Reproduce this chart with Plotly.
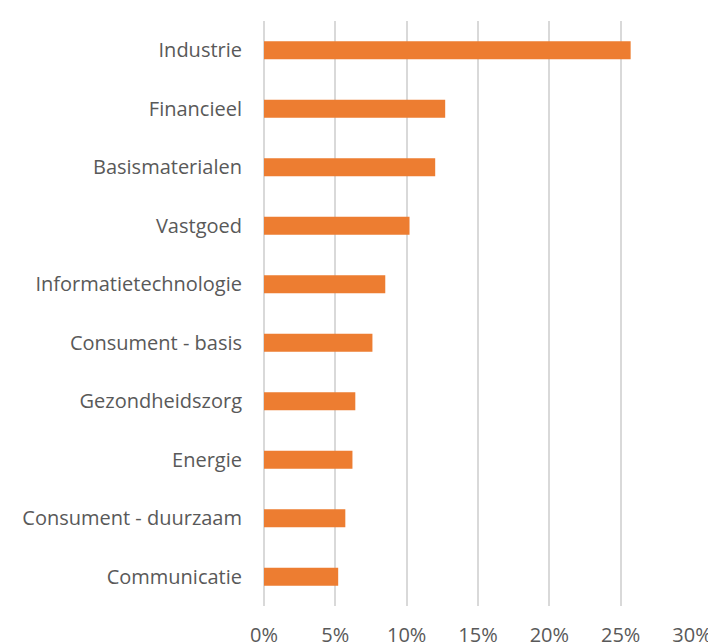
import plotly.graph_objects as go

categories = ["Industrie", "Financieel", "Basismaterialen", "Vastgoed",
              "Informatietechnologie", "Consument - basis", "Gezondheidszorg",
              "Energie", "Consument - duurzaam", "Communicatie"]
values = [25.7, 12.7, 12.0, 10.2, 8.5, 7.6, 6.4, 6.2, 5.7, 5.2]
tick_vals = [0, 5, 10, 15, 20, 25, 30]
tick_text = ["0%", "5%", "10%", "15%", "20%", "25%", "30%"]

fig = go.Figure(go.Bar(
    x=values, y=categories, orientation="h",
    marker=dict(color="#ED7D31", line=dict(width=0)),
    width=0.31,
))

fig.update_layout(
    width=716, height=644,
    margin=dict(l=256, r=32, t=13, b=46),
    paper_bgcolor="white", plot_bgcolor="white",
    font=dict(family="Open Sans", size=20, color="#595959"),
    showlegend=False,
)
fig.update_xaxes(
    range=[0, 30], tickvals=tick_vals, ticktext=tick_text,
    showgrid=True, gridcolor="#D9D9D9", gridwidth=1.5,
    zeroline=True, zerolinecolor="#D9D9D9", zerolinewidth=1.5,
    showline=False, ticks="outside", ticklen=11, tickcolor="rgba(0,0,0,0)",
    automargin=False,
)
fig.update_yaxes(
    categoryorder="array", categoryarray=categories[::-1],
    showgrid=False, zeroline=False, showline=False,
    ticks="outside", ticklen=17, tickcolor="rgba(0,0,0,0)",
    automargin=False,
)

fig.write_html("out.html")
